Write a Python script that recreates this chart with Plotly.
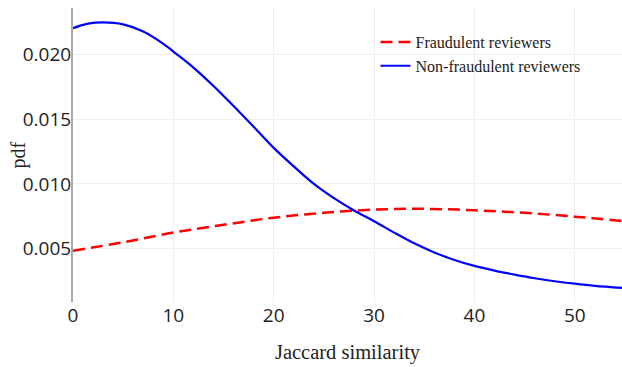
import plotly.graph_objects as go

# Fraudulent reviewers (red dashed)
fraud_x = [0, 5, 10, 15, 20, 25, 30, 35, 40, 45, 50, 55]
fraud_y = [0.00485, 0.0055, 0.00625, 0.00685, 0.0074, 0.00778, 0.00802, 0.00808, 0.00797, 0.00777, 0.00748, 0.00712]

# Non-fraudulent reviewers (blue solid)
nonfraud_x = [0, 1.5, 3, 5, 7, 9, 10, 12, 14, 16, 18, 20, 22, 24, 26, 28, 30,
              32, 34, 36, 38, 40, 42, 44, 46, 48, 50, 52, 55]
nonfraud_y = [0.0220, 0.02235, 0.02245, 0.0223, 0.02175, 0.0208, 0.0202, 0.01897, 0.01755,
              0.0160, 0.01441, 0.01278, 0.01135, 0.0100, 0.0089, 0.00795, 0.00713,
              0.00625, 0.00542, 0.00472, 0.00414, 0.00368, 0.00332, 0.00301, 0.00273,
              0.0025, 0.00231, 0.00215, 0.00198]

x_ticks = [0, 10, 20, 30, 40, 50]
y_ticks = [0.005, 0.010, 0.015, 0.020]
y_tick_text = ["0.005", "0.010", "0.015", "0.020"]

SERIF = "Liberation Serif, Times New Roman, serif"

fig = go.Figure()
fig.add_trace(go.Scatter(
    x=fraud_x, y=fraud_y, mode="lines", name="Fraudulent reviewers",
    line=dict(color="#ff0000", width=2.5, dash="12px,6px", shape="spline"),
))
fig.add_trace(go.Scatter(
    x=nonfraud_x, y=nonfraud_y, mode="lines", name="Non-fraudulent reviewers",
    line=dict(color="#0000ff", width=2.2, shape="spline"),
))

fig.update_layout(
    width=622, height=367,
    margin=dict(l=73, r=0, t=8, b=65),
    paper_bgcolor="white", plot_bgcolor="white",
    font=dict(family="Open Sans, DejaVu Sans, sans-serif", size=19, color="#222"),
    showlegend=True,
    legend=dict(
        x=0.551, y=0.942, xanchor="left", yanchor="top",
        font=dict(family=SERIF, size=16, color="#222"),
        bgcolor="rgba(255,255,255,0)", tracegroupgap=0,
    ),
    xaxis=dict(
        range=[0, 54.7], tickvals=x_ticks, showgrid=True, gridcolor="#eeeeee",
        zeroline=False, showline=False, ticks="",
        title=dict(text="Jaccard similarity", standoff=17,
                   font=dict(family=SERIF, size=20.5, color="#222")),
        tickfont=dict(size=19, color="#222"),
    ),
    yaxis=dict(
        range=[0.0009, 0.02356], tickvals=y_ticks, ticktext=y_tick_text,
        showgrid=True, gridcolor="#eeeeee", zeroline=False, automargin=False,
        showline=True, linecolor="#aaaaaa", linewidth=2, ticks="",
        ticklabelstandoff=-4,
        tickfont=dict(size=19, color="#222"),
    ),
    annotations=[dict(
        text="pdf", textangle=-90, showarrow=False,
        xref="paper", yref="paper", x=-0.101, y=0.5,
        xanchor="center", yanchor="middle",
        font=dict(family=SERIF, size=20, color="#222"),
    )],
)

fig.write_html("out.html", config={"displayModeBar": False},
               post_script="document.body.style.margin='0';")
